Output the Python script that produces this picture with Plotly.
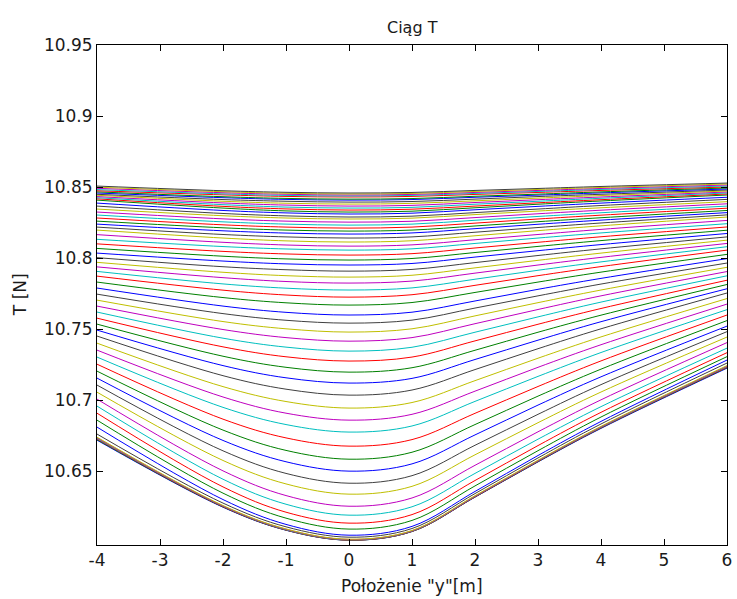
import plotly.graph_objects as go

# Position "y" [m] at which each curve's values were read
positions = [-4, -2, -1, 0, 1, 2, 3, 4, 6]

# Thrust T [N] for every curve (bottom curve first), one list per position
T_m4 = [10.6718, 10.6722, 10.6727, 10.6731, 10.6735, 10.6739, 10.6761, 10.6810, 10.6859, 10.6908,
        10.6958, 10.7007, 10.7056, 10.7106, 10.7155, 10.7204, 10.7253, 10.7303, 10.7352, 10.7401,
        10.7451, 10.7493, 10.7535, 10.7577, 10.7620, 10.7662, 10.7704, 10.7746, 10.7789, 10.7831,
        10.7873, 10.7906, 10.7938, 10.7970, 10.8003, 10.8035, 10.8068, 10.8100, 10.8132, 10.8165,
        10.8197, 10.8218, 10.8239, 10.8260, 10.8282, 10.8303, 10.8324, 10.8345, 10.8366, 10.8387,
        10.8408, 10.8417, 10.8425, 10.8433, 10.8442, 10.8449, 10.8458, 10.8466, 10.8474, 10.8482,
        10.8491, 10.8499, 10.8507]
T_m2 = [10.6246, 10.6248, 10.6250, 10.6253, 10.6255, 10.6258, 10.6275, 10.6300, 10.6345, 10.6389,
        10.6443, 10.6502, 10.6575, 10.6643, 10.6716, 10.6789, 10.6866, 10.6949, 10.7022, 10.7095,
        10.7172, 10.7243, 10.7309, 10.7375, 10.7436, 10.7497, 10.7553, 10.7609, 10.7662, 10.7722,
        10.7774, 10.7818, 10.7862, 10.7900, 10.7939, 10.7979, 10.8013, 10.8047, 10.8081, 10.8111,
        10.8141, 10.8166, 10.8192, 10.8213, 10.8234, 10.8255, 10.8276, 10.8298, 10.8314, 10.8335,
        10.8352, 10.8364, 10.8376, 10.8388, 10.8400, 10.8412, 10.8425, 10.8432, 10.8445, 10.8452,
        10.8460, 10.8467, 10.8474]
T_m1 = [10.6084, 10.6085, 10.6086, 10.6088, 10.6091, 10.6093, 10.6108, 10.6125, 10.6169, 10.6211,
        10.6267, 10.6328, 10.6410, 10.6484, 10.6566, 10.6646, 10.6734, 10.6828, 10.6908, 10.6990,
        10.7077, 10.7157, 10.7231, 10.7305, 10.7373, 10.7440, 10.7502, 10.7562, 10.7618, 10.7685,
        10.7740, 10.7788, 10.7835, 10.7876, 10.7918, 10.7959, 10.7994, 10.8029, 10.8064, 10.8092,
        10.8121, 10.8149, 10.8176, 10.8197, 10.8218, 10.8239, 10.8260, 10.8282, 10.8297, 10.8318,
        10.8332, 10.8346, 10.8359, 10.8373, 10.8386, 10.8400, 10.8413, 10.8420, 10.8434, 10.8441,
        10.8449, 10.8456, 10.8463]
T_0 = [10.6014, 10.6014, 10.6015, 10.6017, 10.6019, 10.6021, 10.6035, 10.6049, 10.6092, 10.6134,
       10.6190, 10.6253, 10.6338, 10.6415, 10.6500, 10.6584, 10.6676, 10.6775, 10.6859, 10.6944,
       10.7035, 10.7120, 10.7197, 10.7275, 10.7345, 10.7415, 10.7479, 10.7542, 10.7599, 10.7669,
       10.7725, 10.7775, 10.7824, 10.7866, 10.7908, 10.7951, 10.7986, 10.8021, 10.8056, 10.8084,
       10.8113, 10.8141, 10.8169, 10.8190, 10.8211, 10.8232, 10.8253, 10.8275, 10.8289, 10.8310,
       10.8324, 10.8338, 10.8352, 10.8366, 10.8380, 10.8394, 10.8408, 10.8415, 10.8430, 10.8437,
       10.8444, 10.8451, 10.8458]
T_1 = [10.6075, 10.6075, 10.6076, 10.6078, 10.6080, 10.6082, 10.6096, 10.6111, 10.6153, 10.6194,
       10.6249, 10.6311, 10.6393, 10.6468, 10.6551, 10.6633, 10.6722, 10.6818, 10.6900, 10.6983,
       10.7071, 10.7153, 10.7228, 10.7303, 10.7372, 10.7440, 10.7502, 10.7563, 10.7619, 10.7687,
       10.7742, 10.7790, 10.7838, 10.7879, 10.7920, 10.7962, 10.7997, 10.8031, 10.8065, 10.8093,
       10.8122, 10.8149, 10.8177, 10.8197, 10.8218, 10.8239, 10.8259, 10.8281, 10.8295, 10.8316,
       10.8330, 10.8344, 10.8357, 10.8371, 10.8385, 10.8398, 10.8412, 10.8419, 10.8434, 10.8441,
       10.8448, 10.8455, 10.8462]
T_2 = [10.6317, 10.6318, 10.6319, 10.6322, 10.6324, 10.6327, 10.6342, 10.6357, 10.6396, 10.6434,
       10.6484, 10.6541, 10.6615, 10.6682, 10.6755, 10.6828, 10.6907, 10.6991, 10.7063, 10.7137,
       10.7215, 10.7286, 10.7351, 10.7417, 10.7478, 10.7538, 10.7593, 10.7648, 10.7698, 10.7758,
       10.7808, 10.7851, 10.7894, 10.7931, 10.7968, 10.8007, 10.8039, 10.8071, 10.8103, 10.8129,
       10.8157, 10.8182, 10.8207, 10.8226, 10.8246, 10.8266, 10.8285, 10.8306, 10.8320, 10.8340,
       10.8354, 10.8366, 10.8379, 10.8391, 10.8403, 10.8415, 10.8428, 10.8435, 10.8448, 10.8455,
       10.8462, 10.8469, 10.8476]
T_3 = [10.6565, 10.6567, 10.6569, 10.6572, 10.6574, 10.6577, 10.6593, 10.6610, 10.6644, 10.6680,
       10.6725, 10.6777, 10.6841, 10.6900, 10.6965, 10.7028, 10.7096, 10.7167, 10.7231, 10.7295,
       10.7362, 10.7422, 10.7478, 10.7534, 10.7586, 10.7638, 10.7686, 10.7734, 10.7780, 10.7831,
       10.7876, 10.7914, 10.7951, 10.7984, 10.8018, 10.8052, 10.8082, 10.8111, 10.8141, 10.8166,
       10.8193, 10.8215, 10.8238, 10.8256, 10.8275, 10.8293, 10.8312, 10.8331, 10.8345, 10.8364,
       10.8379, 10.8389, 10.8400, 10.8411, 10.8422, 10.8433, 10.8443, 10.8450, 10.8462, 10.8469,
       10.8476, 10.8483, 10.8490]
T_4 = [10.6801, 10.6804, 10.6806, 10.6809, 10.6812, 10.6815, 10.6832, 10.6850, 10.6881, 10.6914,
       10.6954, 10.7002, 10.7057, 10.7109, 10.7164, 10.7218, 10.7276, 10.7335, 10.7390, 10.7445,
       10.7502, 10.7552, 10.7598, 10.7645, 10.7690, 10.7734, 10.7775, 10.7817, 10.7857, 10.7901,
       10.7940, 10.7973, 10.8005, 10.8035, 10.8065, 10.8095, 10.8123, 10.8150, 10.8177, 10.8202,
       10.8227, 10.8247, 10.8267, 10.8284, 10.8302, 10.8319, 10.8337, 10.8354, 10.8370, 10.8387,
       10.8402, 10.8411, 10.8421, 10.8430, 10.8440, 10.8449, 10.8459, 10.8466, 10.8476, 10.8483,
       10.8490, 10.8497, 10.8504]
T_6 = [10.7225, 10.7229, 10.7232, 10.7236, 10.7239, 10.7243, 10.7261, 10.7282, 10.7306, 10.7334,
       10.7366, 10.7405, 10.7444, 10.7482, 10.7521, 10.7560, 10.7599, 10.7637, 10.7676, 10.7715,
       10.7754, 10.7784, 10.7814, 10.7844, 10.7875, 10.7905, 10.7935, 10.7965, 10.7996, 10.8026,
       10.8056, 10.8080, 10.8103, 10.8126, 10.8149, 10.8173, 10.8196, 10.8219, 10.8242, 10.8265,
       10.8289, 10.8304, 10.8320, 10.8335, 10.8351, 10.8366, 10.8382, 10.8397, 10.8413, 10.8428,
       10.8444, 10.8451, 10.8458, 10.8465, 10.8472, 10.8479, 10.8486, 10.8493, 10.8500, 10.8507,
       10.8514, 10.8521, 10.8528]

x_ticks = [-4, -3, -2, -1, 0, 1, 2, 3, 4, 5, 6]
x_ticktext = ["-4", "-3", "-2", "-1", "0", "1", "2", "3", "4", "5", "6"]
y_ticks = [10.65, 10.7, 10.75, 10.8, 10.85, 10.9, 10.95]
y_ticktext = ["10.65", "10.7", "10.75", "10.8", "10.85", "10.9", "10.95"]

# MATLAB classic colour order
color_order = ["#0000FF", "#008000", "#FF0000", "#00BFBF", "#BF00BF", "#BFBF00", "#404040"]

columns = [T_m4, T_m2, T_m1, T_0, T_1, T_2, T_3, T_4, T_6]
n_curves = min(len(c) for c in columns)

fig = go.Figure()
for k in range(n_curves):
    fig.add_trace(go.Scatter(
        x=positions,
        y=[col[k] for col in columns],
        mode="lines",
        line=dict(color=color_order[k % 7], width=1, shape="spline", smoothing=1.0),
        showlegend=False,
        hoverinfo="skip",
    ))

FONT = "DejaVu Sans, Verdana, sans-serif"
TXT = "#1a1a1a"

axis_common = dict(
    showgrid=False, zeroline=False, showline=True, linecolor="black", linewidth=1,
    mirror="ticks", ticks="inside", ticklen=6, tickcolor="black", tickwidth=1,
    automargin=False,
    tickfont=dict(family=FONT, size=17, color=TXT),
)

fig.update_layout(
    width=737, height=599,
    margin=dict(l=97, r=10, t=45, b=54),
    paper_bgcolor="white", plot_bgcolor="white",
    xaxis=dict(range=[-4, 6], tickvals=x_ticks, ticktext=x_ticktext, **axis_common),
    yaxis=dict(range=[10.598, 10.95], tickvals=y_ticks, ticktext=y_ticktext, **axis_common),
    annotations=[
        dict(text="Ciąg T", x=0.5, y=1.034, xref="paper", yref="paper", showarrow=False,
             xanchor="center", yanchor="middle", font=dict(family=FONT, size=16, color=TXT)),
        dict(text="Położenie \"y\"[m]", x=0.5, y=-0.082, xref="paper", yref="paper", showarrow=False,
             xanchor="center", yanchor="middle", font=dict(family=FONT, size=17, color=TXT)),
        dict(text="T [N]", x=-0.122, y=0.5, xref="paper", yref="paper", showarrow=False, textangle=-90,
             xanchor="center", yanchor="middle", font=dict(family=FONT, size=17, color=TXT)),
    ],
)

fig.write_html("out.html", config={"displayModeBar": False},
               post_script="document.body.style.margin='0px';")
